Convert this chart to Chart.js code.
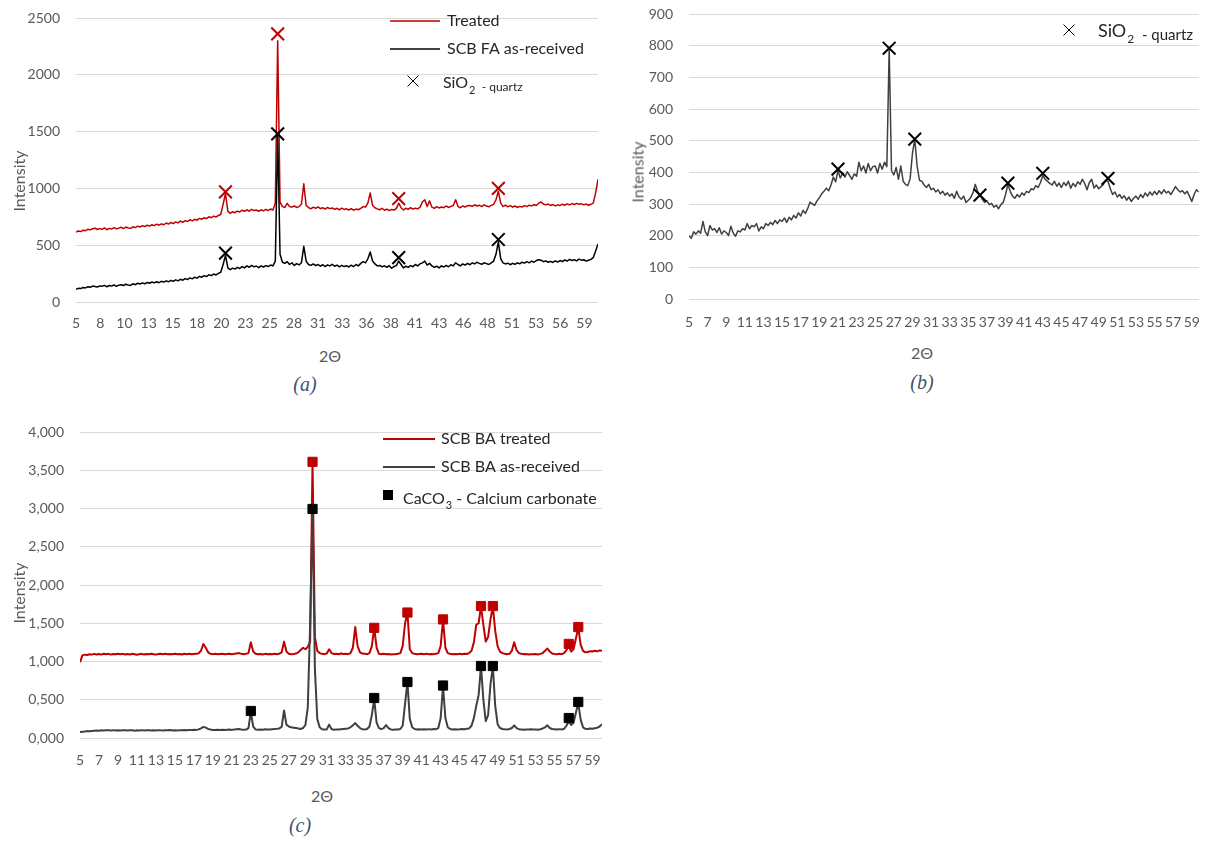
<!DOCTYPE html>
<html>
<head>
<meta charset="utf-8">
<script src="https://cdn.jsdelivr.net/npm/chart.js@4.4.1/dist/chart.umd.min.js"></script>
<style>
  body { margin: 0; background: #fff; width: 1215px; height: 841px; position: relative; overflow: hidden; font-family: Lato, "Open Sans", sans-serif; }
  canvas { position: absolute; }
  .t { position: absolute; transform: translate(-50%, -50%); white-space: nowrap; color: #595959; font-size: 16px; }
  .r { transform: translate(-50%, -50%) rotate(-90deg); }
  .cap { position: absolute; transform: translate(-50%, -50%); font: italic 20px "Liberation Serif", serif; color: #44546A; }
</style>
</head>
<body>
<canvas id="chartA" width="610" height="340" style="left:0;top:0"></canvas>
<canvas id="chartB" width="600" height="340" style="left:615px;top:0"></canvas>
<canvas id="chartC" width="615" height="360" style="left:0;top:415px"></canvas>

<div class="t r" style="left:18px;top:181px">Intensity</div>
<div class="t" style="left:330px;top:355px">2Θ</div>
<div class="cap" style="left:305px;top:384px">(a)</div>

<div class="t r" style="left:637px;top:172px">Intensity</div>
<div class="t" style="left:922px;top:352px">2Θ</div>
<div class="cap" style="left:922px;top:382px">(b)</div>

<div class="t r" style="left:18px;top:593px">Intensity</div>
<div class="t" style="left:322px;top:795px">2Θ</div>
<div class="cap" style="left:300px;top:825px">(c)</div>

<script>
// 2-theta sampling of every pattern: first angle and step (degrees)
const thetaStart = 5;
const thetaStep = 0.25;

// (a) SCB fly ash
const faTreated = [
  615,625,620,632,628,640,635,645,650,638,646,640,652,636,648,642,655,644,650,658,
  646,660,652,648,662,655,668,660,672,664,676,668,680,672,685,676,688,680,695,686,
  700,690,705,696,712,702,716,708,724,714,728,720,736,728,742,734,750,742,756,748,
  762,770,860,955,800,780,795,786,800,792,808,798,812,800,815,805,810,798,812,802,
  815,806,818,810,870,2300,880,840,832,868,840,835,845,832,840,860,1040,850,832,820,
  835,825,838,822,830,818,832,822,828,815,825,812,826,815,820,810,822,808,818,812,
  825,840,835,870,960,850,830,820,812,825,808,818,805,815,810,822,870,830,810,825,
  815,830,818,826,820,835,880,900,840,890,835,825,840,828,836,830,845,832,842,850,
  900,840,830,845,836,848,850,842,856,845,852,840,855,845,838,850,860,900,975,870,
  840,852,838,848,835,845,832,842,836,848,840,852,846,858,850,870,880,862,855,862,
  850,858,846,855,850,860,852,864,855,866,858,868,860,866,855,862,852,860,870,960,
  1080
];
const faReceived = [
  112,120,118,128,124,135,130,140,136,132,142,138,146,134,145,140,150,138,148,152,
  145,156,150,146,160,152,165,158,168,160,172,165,176,168,178,170,182,175,186,178,
  190,182,195,186,200,192,206,198,212,204,218,210,226,218,232,224,240,232,246,238,
  252,262,330,410,300,285,298,290,305,295,312,300,318,306,322,310,316,302,318,308,
  320,312,325,318,360,1470,420,350,340,355,330,345,322,338,326,345,490,360,330,322,
  335,320,330,315,328,312,326,318,332,315,325,310,322,312,320,308,324,312,330,318,
  340,355,345,380,440,360,335,318,322,310,318,305,320,298,312,320,360,330,300,315,
  305,320,310,330,318,335,345,360,325,340,318,305,315,300,318,308,322,310,328,318,
  345,330,318,335,325,340,328,345,335,350,340,332,345,338,330,345,360,420,530,380,
  345,335,342,328,340,332,345,336,350,342,355,345,360,350,365,372,368,355,362,350,
  358,348,362,352,365,355,370,360,375,365,372,362,378,368,372,360,368,375,390,450,
  510
];
const faQuartzX = [20.75, 26.25, 39, 49.5];
const faTreatedQuartzY = [970, 2360, 910, 1000];
const faReceivedQuartzY = [430, 1480, 390, 550];
const faTickLabels = ['5','8','10','13','15','18','20','23','25','28','31','33','36','38','41','43','46','48','51','53','56','59'];
const faTickStep = 2.551;

// (b)
const sampleB = [
  200,192,212,205,215,208,245,212,200,232,218,222,210,225,205,215,210,200,230,208,
  198,215,212,222,218,238,222,232,228,238,215,228,222,238,232,242,235,248,238,250,
  245,256,242,258,250,264,256,272,262,280,270,286,306,300,296,310,320,332,340,350,
  342,360,385,370,405,382,398,385,402,390,378,395,388,432,405,420,398,428,405,418,
  420,398,428,410,432,418,790,405,392,415,378,420,372,362,358,380,460,505,420,375,
  372,360,352,362,345,350,338,345,332,340,328,335,325,332,318,340,322,315,325,305,
  312,320,335,362,340,328,315,305,310,298,302,290,296,285,298,305,330,362,340,325,
  318,330,322,335,328,340,336,348,345,358,352,368,390,378,372,365,360,372,356,366,
  352,368,358,372,350,365,355,370,362,378,365,345,368,378,350,360,348,355,362,375,
  372,348,330,338,322,330,318,326,312,322,308,318,325,315,330,320,335,325,338,328,
  340,330,342,332,345,335,340,330,342,355,345,338,342,332,340,325,308,330,345,338
];
const sampleBQuartzX = [21, 26.5, 29.25, 36.25, 39.25, 43, 50];
const sampleBQuartzY = [410, 792, 505, 328, 366, 397, 381];

// (c) SCB bottom ash
const baTreated = [
  990,1080,1090,1085,1095,1090,1100,1092,1098,1090,1102,1095,1100,1090,1098,1094,1102,1096,1100,1092,
  1098,1092,1100,1094,1088,1096,1100,1092,1098,1094,1100,1096,1090,1098,1102,1095,1100,1094,1098,1096,
  1100,1094,1098,1092,1102,1096,1100,1094,1098,1100,1108,1140,1230,1180,1120,1100,1096,1100,1094,1098,
  1100,1094,1098,1102,1096,1100,1105,1110,1100,1096,1100,1110,1250,1130,1100,1094,1098,1092,1100,1096,
  1098,1094,1100,1096,1102,1120,1260,1130,1100,1094,1098,1104,1120,1150,1180,1160,1190,1260,3610,1320,
  1140,1110,1100,1096,1104,1160,1110,1098,1100,1094,1105,1098,1102,1096,1110,1180,1450,1200,1120,1104,
  1100,1096,1110,1200,1440,1180,1100,1096,1100,1094,1098,1092,1096,1094,1100,1110,1200,1500,1640,1160,
  1110,1100,1094,1098,1102,1096,1100,1094,1098,1096,1100,1110,1200,1550,1180,1110,1100,1094,1098,1096,
  1100,1096,1102,1098,1110,1140,1250,1480,1500,1720,1480,1260,1320,1550,1720,1400,1200,1130,1110,1100,
  1096,1100,1140,1250,1150,1110,1100,1094,1098,1092,1096,1094,1098,1092,1100,1110,1140,1170,1130,1105,
  1098,1094,1100,1096,1110,1150,1200,1130,1160,1300,1440,1220,1140,1120,1125,1135,1130,1140,1132,1145,
  1140
];
const baReceived = [
  78,82,85,90,88,92,95,98,96,100,98,102,100,97,103,99,101,98,102,100,
  98,102,100,96,101,99,103,98,100,102,97,101,99,103,100,98,102,100,104,99,
  101,98,103,100,104,101,105,103,108,106,112,125,145,135,118,110,106,104,108,105,
  107,104,108,110,106,112,115,118,112,108,110,130,340,150,112,108,112,108,114,110,
  112,115,118,120,125,145,360,175,150,140,135,130,125,118,130,170,400,1500,3000,900,
  250,140,115,110,112,175,118,108,112,110,114,118,122,125,140,165,195,160,130,115,
  112,118,150,300,510,200,130,115,130,170,130,112,108,112,110,118,160,450,730,250,
  140,118,112,115,110,114,110,116,112,118,115,130,260,680,260,140,118,112,115,112,
  114,118,115,120,125,160,260,420,560,940,500,220,300,700,940,420,180,130,118,114,
  112,118,130,165,130,115,112,108,112,110,114,110,112,108,115,125,140,165,130,118,
  114,110,116,112,120,160,220,170,200,330,460,240,140,120,118,125,120,128,135,150,
  180
];
const baTreatedCalciteX = [29.5, 36, 39.5, 43.25, 47.25, 48.5, 56.5, 57.5];
const baTreatedCalciteY = [3610, 1440, 1640, 1550, 1725, 1725, 1230, 1450];
const baReceivedCalciteX = [23, 29.5, 36, 39.5, 43.25, 47.25, 48.5, 56.5, 57.5];
const baReceivedCalciteY = [353, 2994, 523, 732, 686, 941, 941, 261, 471];

const oddTickLabels = ['5','7','9','11','13','15','17','19','21','23','25','27','29','31','33','35','37','39','41','43','45','47','49','51','53','55','57','59'];

const fontFamily = 'Lato, "Open Sans", sans-serif';
Chart.defaults.font.family = fontFamily;
Chart.defaults.color = '#595959';

function toPoints(values) {
  return values.map((y, i) => ({ x: thetaStart + i * thetaStep, y: y }));
}
function pairs(xs, ys) {
  return xs.map((x, i) => ({ x: x, y: ys[i] }));
}
function lineSet(values, color, width, order) {
  return { data: toPoints(values), borderColor: color, borderWidth: width, pointRadius: 0,
           borderJoinStyle: 'round', tension: 0, order: order };
}
function markerSet(xs, ys, color, style, radius, bw) {
  return { data: pairs(xs, ys), showLine: false, pointStyle: style, pointRadius: radius,
           pointBorderWidth: bw, pointBorderColor: color, pointBackgroundColor: color, order: 0 };
}

// legend drawn on the canvas (needs subscripts)
const legendPlugin = {
  id: 'xrdLegend',
  afterDraw(chart, args, opts) {
    const ctx = chart.ctx;
    opts.items.forEach(it => {
      ctx.save();
      ctx.strokeStyle = it.color;
      ctx.fillStyle = it.color;
      if (it.mark === 'line') {
        ctx.lineWidth = it.lw;
        ctx.beginPath();
        ctx.moveTo(it.x1, it.my);
        ctx.lineTo(it.x2, it.my);
        ctx.stroke();
      } else if (it.mark === 'cross') {
        ctx.lineWidth = 1;
        ctx.beginPath();
        ctx.moveTo(it.mx - it.ms, it.my - it.ms);
        ctx.lineTo(it.mx + it.ms, it.my + it.ms);
        ctx.moveTo(it.mx - it.ms, it.my + it.ms);
        ctx.lineTo(it.mx + it.ms, it.my - it.ms);
        ctx.stroke();
      } else if (it.mark === 'square') {
        ctx.fillRect(it.mx - it.ms, it.my - it.ms, it.ms * 2, it.ms * 2);
      }
      ctx.fillStyle = '#262626';
      ctx.textBaseline = 'middle';
      ctx.font = it.size + 'px ' + fontFamily;
      ctx.fillText(it.text, it.tx, it.ty);
      let w = ctx.measureText(it.text).width;
      if (it.sub) {
        ctx.font = it.subSize + 'px ' + fontFamily;
        ctx.fillText(it.sub, it.tx + w + 1, it.ty + it.subDy);
        w += ctx.measureText(it.sub).width + 1;
      }
      if (it.rest) {
        ctx.font = it.restSize + 'px ' + fontFamily;
        ctx.fillText(it.rest, it.tx + w, it.ty + it.restDy);
      }
      ctx.restore();
    });
  }
};

function scaleSet(o) {
  return {
    x: {
      type: 'linear', min: thetaStart, max: o.xMax,
      border: { display: false },
      grid: { display: false, drawTicks: false },
      afterBuildTicks: s => { s.ticks = o.tickPos.map(v => ({ value: v })); },
      afterFit: s => { s.height = o.xHeight; },
      ticks: { autoSkip: false, maxRotation: 0, minRotation: 0, padding: o.xPad,
               font: { size: 14 }, color: '#595959', callback: (v, i) => o.tickLabels[i] }
    },
    y: {
      min: 0, max: o.yMax,
      border: { display: false },
      grid: { color: '#D9D9D9', lineWidth: 1, drawTicks: false },
      // fixed width; label padding must not push the plot area down
      afterFit: s => { s.width = o.yWidth; s.paddingTop = 0; s.paddingBottom = 0; },
      ticks: { stepSize: o.yStep, padding: 16, font: { size: 14 }, color: '#595959', callback: o.yFormat }
    }
  };
}

function baseOptions(padding, scales, legendItems) {
  return {
    responsive: false, animation: false, events: [],
    layout: { padding: padding, autoPadding: false },
    scales: scales,
    plugins: { legend: { display: false }, tooltip: { enabled: false }, xrdLegend: { items: legendItems } }
  };
}

// (a)
new Chart(document.getElementById('chartA'), {
  type: 'line',
  data: { datasets: [
    markerSet(faQuartzX, faTreatedQuartzY, '#C00000', 'crossRot', 9, 2),
    markerSet(faQuartzX, faReceivedQuartzY, '#000000', 'crossRot', 9, 2),
    lineSet(faReceived, '#000000', 1.5, 1),
    lineSet(faTreated, '#C00000', 1.5, 2)
  ] },
  options: baseOptions({ left: 0, top: 18, right: 12, bottom: 0 },
    scaleSet({ xMax: 60, tickPos: faTickLabels.map((l, i) => thetaStart + i * faTickStep), tickLabels: faTickLabels,
               xHeight: 38, xPad: 13, yMax: 2500, yStep: 500, yWidth: 76, yFormat: v => String(v) }),
    [
      { mark: 'line', color: '#C00000', lw: 1.5, x1: 390, x2: 440, my: 21, text: 'Treated', size: 16, tx: 447, ty: 21 },
      { mark: 'line', color: '#000000', lw: 1.5, x1: 390, x2: 440, my: 49, text: 'SCB FA as-received', size: 16, tx: 447, ty: 49 },
      { mark: 'cross', color: '#000000', mx: 413, my: 81, ms: 5.5, text: 'SiO', size: 16, tx: 443, ty: 83,
        sub: '2', subSize: 11, subDy: 7, rest: '  - quartz', restSize: 12, restDy: 4 }
    ]),
  plugins: [legendPlugin]
});

// (b)
new Chart(document.getElementById('chartB'), {
  type: 'line',
  data: { datasets: [
    markerSet(sampleBQuartzX, sampleBQuartzY, '#000000', 'crossRot', 9, 2),
    lineSet(sampleB, '#404040', 1.5, 1)
  ] },
  options: baseOptions({ left: 0, top: 14, right: 8, bottom: 0 },
    scaleSet({ xMax: 59.75, tickPos: oddTickLabels.map(Number), tickLabels: oddTickLabels,
               xHeight: 41, xPad: 15, yMax: 900, yStep: 100, yWidth: 74, yFormat: v => String(v) }),
    [
      { mark: 'cross', color: '#000000', mx: 454, my: 30, ms: 5.5, text: 'SiO', size: 18, tx: 483, ty: 31,
        sub: '2', subSize: 12, subDy: 8, rest: '  - quartz', restSize: 15, restDy: 4 }
    ]),
  plugins: [legendPlugin]
});

// (c)
new Chart(document.getElementById('chartC'), {
  type: 'line',
  data: { datasets: [
    markerSet(baTreatedCalciteX, baTreatedCalciteY, '#C00000', 'rect', 6.5, 1),
    markerSet(baReceivedCalciteX, baReceivedCalciteY, '#000000', 'rect', 6.5, 1),
    lineSet(baReceived, '#404040', 2, 1),
    lineSet(baTreated, '#C00000', 2, 2)
  ] },
  options: baseOptions({ left: 0, top: 17, right: 13, bottom: 0 },
    scaleSet({ xMax: 60, tickPos: oddTickLabels.map(Number), tickLabels: oddTickLabels,
               xHeight: 37, xPad: 14, yMax: 4000, yStep: 500, yWidth: 80,
               yFormat: v => (v / 1000).toFixed(3).replace('.', ',') }),
    [
      { mark: 'line', color: '#C00000', lw: 2, x1: 383, x2: 435, my: 24, text: 'SCB BA treated', size: 16, tx: 441, ty: 24 },
      { mark: 'line', color: '#404040', lw: 2, x1: 383, x2: 435, my: 52, text: 'SCB BA as-received', size: 16, tx: 441, ty: 52 },
      { mark: 'square', color: '#000000', mx: 388, my: 80, ms: 5, text: 'CaCO', size: 16, tx: 403, ty: 84,
        sub: '3', subSize: 11, subDy: 6, rest: ' - Calcium carbonate', restSize: 16, restDy: 0 }
    ]),
  plugins: [legendPlugin]
});
</script>
</body>
</html>
